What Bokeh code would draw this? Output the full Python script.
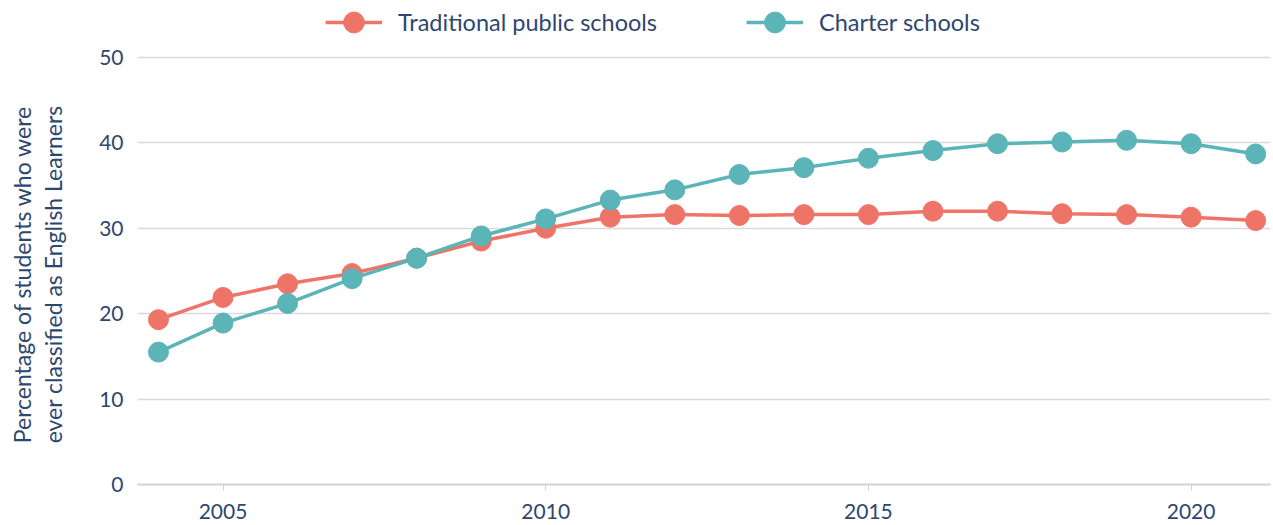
import math
from bokeh.plotting import figure
from bokeh.layouts import row
from bokeh.models import ColumnDataSource, Legend, LegendItem, FixedTicker, Range1d, Label
from bokeh.embed import file_html
from bokeh.resources import INLINE

years = list(range(2004, 2022))
traditional = [19.3, 21.9, 23.5, 24.7, 26.5, 28.5, 30.0, 31.3, 31.6, 31.5, 31.6, 31.6, 32.0, 32.0, 31.7, 31.6, 31.3, 30.9]
charter = [15.5, 18.9, 21.2, 24.1, 26.5, 29.1, 31.1, 33.3, 34.5, 36.3, 37.1, 38.2, 39.1, 39.9, 40.1, 40.3, 39.9, 38.7]
series_names = ["Traditional public schools", "Charter schools"]
y_ticks = [0, 10, 20, 30, 40, 50]
x_ticks = [2005, 2010, 2015, 2020]
y_label = "Percentage of students who were\never classified as English Learners"

RED = "#EF7468"
TEAL = "#5BB4B7"
TXT = "#2E4770"
FONT = "Lato"

LEFT_W = 85

src = ColumnDataSource(dict(x=years, t=traditional, c=charter))

p = figure(width=1273 - LEFT_W, height=525, output_backend="svg", toolbar_location=None,
           x_range=Range1d(2003.675, 2021.23), y_range=Range1d(0, 56.67),
           min_border_left=137 - LEFT_W, min_border_right=3, min_border_top=0, min_border_bottom=41)
p.outline_line_color = None
p.background_fill_color = "white"
p.border_fill_color = "white"

# grid
p.xgrid.grid_line_color = None
p.ygrid.grid_line_color = "#DADADA"
p.ygrid.grid_line_width = 1.5
p.ygrid.ticker = FixedTicker(ticks=y_ticks)

# y axis
p.yaxis.ticker = FixedTicker(ticks=y_ticks)
p.yaxis.axis_line_color = None
p.yaxis.major_tick_line_color = None
p.yaxis.major_tick_out = 0
p.yaxis.major_tick_in = 0
p.yaxis.minor_tick_line_color = None
p.yaxis.major_label_standoff = 14
p.yaxis.major_label_text_font = FONT
p.yaxis.major_label_text_font_size = "21px"
p.yaxis.major_label_text_color = TXT

# x axis
p.xaxis.ticker = FixedTicker(ticks=x_ticks)
p.xaxis.axis_line_color = "#D3D3D3"
p.xaxis.axis_line_width = 2
p.xaxis.major_tick_line_color = "#D3D3D3"
p.xaxis.major_tick_in = 0
p.xaxis.major_tick_out = 6
p.xaxis.minor_tick_line_color = None
p.xaxis.major_label_standoff = 13
p.xaxis.major_label_text_font = FONT
p.xaxis.major_label_text_font_size = "21px"
p.xaxis.major_label_text_color = TXT

lt = p.line("x", "t", source=src, line_color=RED, line_width=3.5)
st = p.scatter("x", "t", source=src, size=20, fill_color=RED, line_color=RED)
lc = p.line("x", "c", source=src, line_color=TEAL, line_width=3.5)
sc = p.scatter("x", "c", source=src, size=20, fill_color=TEAL, line_color=TEAL)

legend = Legend(items=[LegendItem(label=series_names[0], renderers=[lt, st]),
                       LegendItem(label=series_names[1], renderers=[lc, sc])],
                orientation="horizontal", location=(188, 436),
                background_fill_alpha=0, border_line_alpha=0,
                padding=0, margin=0, spacing=89, glyph_width=57, glyph_height=52,
                label_standoff=16, label_text_font=FONT, label_text_font_size="23.5px",
                label_text_color=TXT, label_height=24)
p.add_layout(legend)

# left strip holding the y-axis title
q = figure(width=LEFT_W, height=525, output_backend="svg", toolbar_location=None,
           x_range=Range1d(0, LEFT_W), y_range=Range1d(0, 525),
           min_border=0, min_border_left=0, min_border_right=0, min_border_top=0, min_border_bottom=0)
q.axis.visible = False
q.grid.visible = False
q.outline_line_color = None
q.background_fill_color = "white"
q.border_fill_color = "white"
lab = Label(x=37, y=228, text=y_label,
            angle=math.pi / 2, text_align="center", text_baseline="middle",
            text_font=FONT, text_font_size="23px", text_color=TXT, text_line_height=1.1)
q.add_layout(lab)

layout = row(q, p, spacing=0)
open("out.html", "w").write(file_html(layout, INLINE))
